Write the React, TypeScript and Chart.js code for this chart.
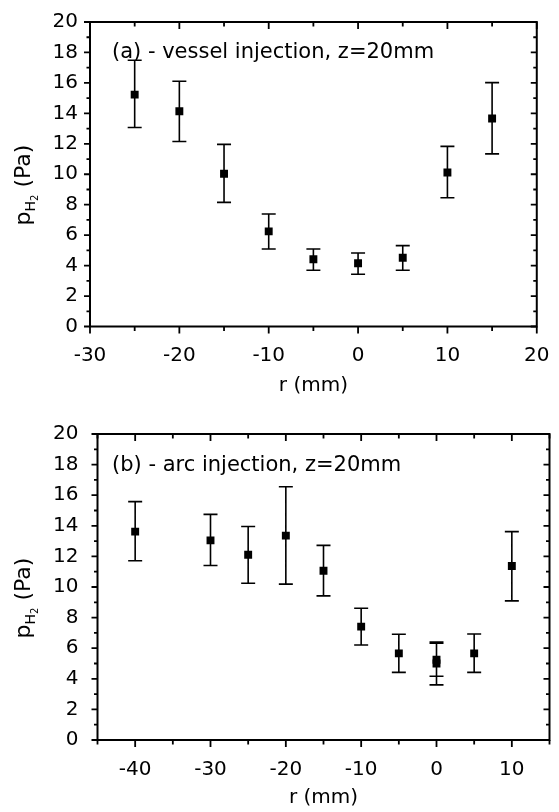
import React, { useEffect, useRef } from 'react';
import { Chart, registerables } from 'chart.js';

Chart.register(...registerables);

const FONT = '"DejaVu Sans", "Liberation Sans", Arial, sans-serif';

// Panel (a): vessel injection, z = 20 mm
const rA = [-25, -20, -15, -10, -5, 0, 5, 10, 15];
const pA = [15.23, 14.14, 10.03, 6.25, 4.42, 4.15, 4.52, 10.12, 13.66];
const pAHi = [17.49, 16.11, 11.96, 7.39, 5.09, 4.83, 5.31, 11.83, 16.02];
const pALo = [13.07, 12.15, 8.15, 5.09, 3.69, 3.43, 3.69, 8.46, 11.34];

// Panel (b): arc injection, z = 20 mm
const rB = [-40, -30, -25, -20, -15, -10, -5, 0, 0, 5, 10];
const pB = [13.62, 13.05, 12.11, 13.36, 11.06, 7.41, 5.66, 5.25, 5.0, 5.66, 11.37];
const pBHi = [15.58, 14.75, 13.95, 16.55, 12.72, 8.61, 6.91, 6.4, 6.33, 6.93, 13.62];
const pBLo = [11.72, 11.41, 10.25, 10.19, 9.42, 6.21, 4.42, 4.17, 3.6, 4.42, 9.09];

// Axis ranges / tick steps
const xRangeA = [-30, 20];
const xRangeB = [-45, 15];
const yRange = [0, 20];
const xMajorStep = 10;
const xMinorStep = 5;
const yMajorStep = 2;
const yMinorStep = 1;

const titleA = '(a) - vessel injection, z=20mm';
const titleB = '(b) - arc injection, z=20mm';
const xTitle = 'r (mm)';

type PanelCfg = {
  r: number[];
  p: number[];
  hi: number[];
  lo: number[];
  xRange: number[];
  title: string;
  padTop: number;
  padRight: number;
  yWidth: number;
  xHeight: number;
  yTickPad: number;
  xTitlePadBottom: number;
  titlePos: { x: number; y: number };
  yTitlePos: { x: number; y: number };
};

const isMult = (v: number, s: number) => Math.abs(Math.round(v / s) * s - v) < 1e-6;

const panelPlugin = {
  id: 'panelExtras',
  beforeDatasetsDraw(chart: any, _args: any, opts: any) {
    const { ctx, scales } = chart;
    const y = scales.y;
    const meta = chart.getDatasetMeta(0);
    ctx.save();
    ctx.strokeStyle = '#000';
    ctx.lineWidth = 1.6;
    ctx.beginPath();
    meta.data.forEach((el: any, i: number) => {
      const px = el.x;
      const yh = y.getPixelForValue(opts.hi[i]);
      const yl = y.getPixelForValue(opts.lo[i]);
      const cap = 7;
      ctx.moveTo(px, yh);
      ctx.lineTo(px, yl);
      ctx.moveTo(px - cap, yh);
      ctx.lineTo(px + cap, yh);
      ctx.moveTo(px - cap, yl);
      ctx.lineTo(px + cap, yl);
    });
    ctx.stroke();
    ctx.restore();
  },
  afterDraw(chart: any, _args: any, opts: any) {
    const { ctx, chartArea: a, scales } = chart;
    const x = scales.x;
    const y = scales.y;
    ctx.save();
    ctx.strokeStyle = '#000';
    ctx.lineWidth = 1.8;
    ctx.beginPath();
    x.ticks.forEach((t: any) => {
      const px = x.getPixelForValue(t.value);
      const major = isMult(t.value, xMajorStep);
      const len = major ? 7 : 4.5;
      ctx.moveTo(px, a.bottom);
      ctx.lineTo(px, a.bottom + len);
      ctx.moveTo(px, a.top);
      ctx.lineTo(px, a.top + len);
    });
    y.ticks.forEach((t: any) => {
      const py = y.getPixelForValue(t.value);
      const major = isMult(t.value, yMajorStep);
      const len = major ? 6 : 3.5;
      ctx.moveTo(a.left, py);
      ctx.lineTo(a.left - len, py);
      ctx.moveTo(a.right, py);
      ctx.lineTo(a.right - len, py);
    });
    ctx.stroke();
    ctx.lineWidth = 2;
    ctx.strokeRect(a.left, a.top, a.right - a.left, a.bottom - a.top);

    // panel annotation
    ctx.fillStyle = '#000';
    ctx.font = `21px ${FONT}`;
    ctx.textAlign = 'left';
    ctx.textBaseline = 'middle';
    ctx.fillText(opts.title, opts.titlePos.x, opts.titlePos.y);

    // y-axis title: p_{H_2} (Pa), rotated
    ctx.translate(opts.yTitlePos.x, opts.yTitlePos.y);
    ctx.rotate(-Math.PI / 2);
    ctx.textBaseline = 'alphabetic';
    const parts = [
      { t: 'p', size: 22, dy: 0 },
      { t: 'H', size: 14, dy: 5 },
      { t: '2', size: 10, dy: 8 },
      { t: ' (Pa)', size: 22, dy: 0 },
    ];
    let total = 0;
    const widths = parts.map((pt) => {
      ctx.font = `${pt.size}px ${FONT}`;
      const w = ctx.measureText(pt.t).width;
      total += w;
      return w;
    });
    let cx = -total / 2;
    parts.forEach((pt, i) => {
      ctx.font = `${pt.size}px ${FONT}`;
      ctx.fillText(pt.t, cx, pt.dy);
      cx += widths[i];
    });
    ctx.restore();
  },
};

function Panel({ cfg }: { cfg: PanelCfg }) {
  const ref = useRef<HTMLCanvasElement | null>(null);
  useEffect(() => {
    if (!ref.current) return;
    const chart = new Chart(ref.current, {
      type: 'scatter',
      data: {
        datasets: [
          {
            data: cfg.r.map((r, i) => ({ x: r, y: cfg.p[i] })),
            pointStyle: 'rect',
            pointRadius: 5.6,
            pointHoverRadius: 5.6,
            backgroundColor: '#000',
            borderColor: '#000',
            borderWidth: 0,
            showLine: false,
          },
        ],
      },
      plugins: [panelPlugin],
      options: {
        responsive: false,
        animation: false,
        devicePixelRatio: 1,
        layout: { padding: { top: cfg.padTop, right: cfg.padRight, left: 0, bottom: 0 } },
        plugins: {
          legend: { display: false },
          tooltip: { enabled: false },
          panelExtras: {
            hi: cfg.hi,
            lo: cfg.lo,
            title: cfg.title,
            titlePos: cfg.titlePos,
            yTitlePos: cfg.yTitlePos,
          },
        } as any,
        scales: {
          x: {
            type: 'linear',
            min: cfg.xRange[0],
            max: cfg.xRange[1],
            grid: { display: false },
            border: { display: false },
            ticks: {
              stepSize: xMinorStep,
              autoSkip: false,
              maxRotation: 0,
              padding: 9.5,
              color: '#000',
              font: { family: FONT, size: 20 },
              callback: (v: any) => (isMult(Number(v), xMajorStep) ? String(Math.round(Number(v))) : ''),
            },
            title: {
              display: true,
              text: xTitle,
              color: '#000',
              font: { family: FONT, size: 20 },
              padding: { top: 0, bottom: cfg.xTitlePadBottom },
            },
            afterFit: (s: any) => {
              s.height = cfg.xHeight;
            },
          },
          y: {
            type: 'linear',
            min: yRange[0],
            max: yRange[1],
            grid: { display: false },
            border: { display: false },
            ticks: {
              stepSize: yMinorStep,
              autoSkip: false,
              padding: cfg.yTickPad,
              color: '#000',
              font: { family: FONT, size: 20 },
              callback: (v: any) => (isMult(Number(v), yMajorStep) ? String(Math.round(Number(v))) : ''),
            },
            afterFit: (s: any) => {
              s.width = cfg.yWidth;
            },
          },
        },
      } as any,
    });
    return () => chart.destroy();
  }, []);
  return <canvas ref={ref} width={559} height={406} style={{ display: 'block' }} />;
}

const cfgA: PanelCfg = {
  r: rA,
  p: pA,
  hi: pAHi,
  lo: pALo,
  xRange: xRangeA,
  title: titleA,
  padTop: 22,
  padRight: 16,
  yWidth: 90,
  xHeight: 79.5,
  yTickPad: 4,
  xTitlePadBottom: 8.5,
  titlePos: { x: 112, y: 53 },
  yTitlePos: { x: 30, y: 185 },
};

const cfgB: PanelCfg = {
  r: rB,
  p: pB,
  hi: pBHi,
  lo: pBLo,
  xRange: xRangeB,
  title: titleB,
  padTop: 28,
  padRight: 8,
  yWidth: 97.5,
  xHeight: 72,
  yTickPad: 11,
  xTitlePadBottom: 2,
  titlePos: { x: 112, y: 60 },
  yTitlePos: { x: 30, y: 192 },
};

export default function App() {
  return (
    <div style={{ position: 'absolute', left: 0, top: 0, width: 559, height: 812, background: '#fff' }}>
      <Panel cfg={cfgA} />
      <Panel cfg={cfgB} />
    </div>
  );
}
